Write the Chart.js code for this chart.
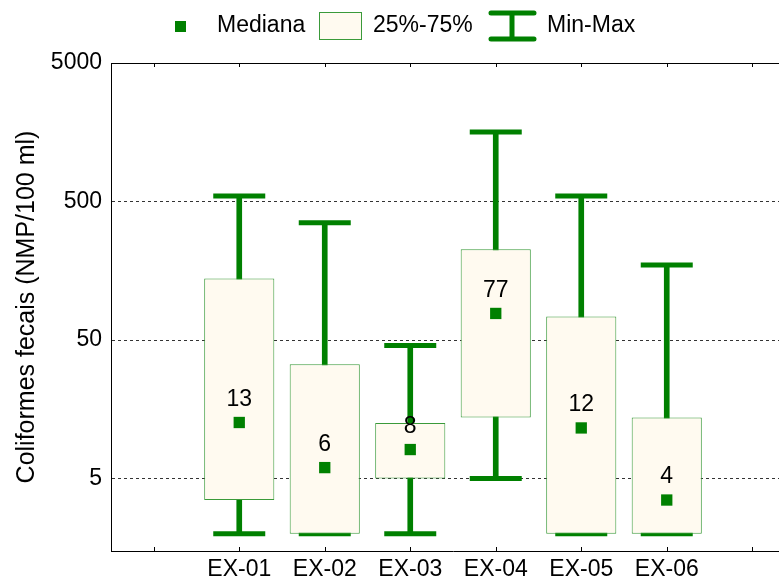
<!DOCTYPE html>
<html>
<head>
<meta charset="utf-8">
<script src="https://cdn.jsdelivr.net/npm/chart.js@4"></script>
<style>
  body { margin: 0; overflow: hidden; background: #fff; }
  #wrap { width: 779px; height: 583px; overflow: hidden; }
</style>
</head>
<body>
<div id="wrap"><canvas id="grafico" width="800" height="583"></canvas></div>
<script>
// dados (primeira e ultima categoria vazias)
var pontos = ['', 'EX-01', 'EX-02', 'EX-03', 'EX-04', 'EX-05', 'EX-06', ''];
var minimo = [null, 2, 2, 2, 5, 2, 2, null];
var quartil1 = [null, 3.5, 2, 5, 13.8, 2, 2, null];
var quartil3 = [null, 139, 33.5, 12.6, 226, 74, 13.8, null];
var maximo = [null, 548, 352, 45.7, 1590, 548, 174, null];
var mediana = [null, 12.7, 6.0, 8.1, 77.8, 11.6, 3.5, null];
var rotulosMediana = ['', '13', '6', '8', '77', '12', '4', ''];
var ticksY = [5, 50, 500, 5000];

var verde = '#008000';
var creme = '#FFFAF0';
var bordaCaixa = '#3A9A3A';
var fonte = 'Liberation Sans, Arial, sans-serif';

var whiskers = [];
var caixas = [];
for (let i = 0; i < pontos.length; i++) {
    whiskers.push(minimo[i] == null ? null : [minimo[i], maximo[i]]);
    caixas.push(quartil1[i] == null ? null : [quartil1[i], quartil3[i]]);
}

// legenda desenhada a mao, parecida com a original
const legenda = {
    id: 'legenda',
    afterDraw(chart) {
        const ctx = chart.ctx;
        ctx.save();
        ctx.fillStyle = verde;
        ctx.fillRect(175, 21, 11, 11);
        ctx.fillStyle = creme;
        ctx.fillRect(319.5, 12.5, 42, 27);
        ctx.strokeStyle = bordaCaixa;
        ctx.lineWidth = 1;
        ctx.strokeRect(319.5, 12.5, 42, 27);
        ctx.strokeStyle = verde;
        ctx.lineWidth = 5;
        ctx.lineCap = 'round';
        ctx.beginPath();
        ctx.moveTo(491, 13); ctx.lineTo(534, 13);
        ctx.moveTo(491, 39); ctx.lineTo(534, 39);
        ctx.moveTo(512, 13); ctx.lineTo(512, 39);
        ctx.stroke();
        ctx.fillStyle = '#000';
        ctx.font = '23px ' + fonte;
        ctx.textBaseline = 'middle';
        ctx.fillText('Mediana', 217, 26);
        ctx.fillText('25%-75%', 373, 26);
        ctx.fillText('Min-Max', 547, 26);
        ctx.restore();
    }
};

// moldura de cima, marcas internas do eixo x e rotulos das medianas
const extras = {
    id: 'extras',
    afterDraw(chart) {
        const ctx = chart.ctx;
        const area = chart.chartArea;
        const x = chart.scales.x;
        ctx.save();
        ctx.strokeStyle = '#000';
        ctx.lineWidth = 1;
        ctx.beginPath();
        ctx.moveTo(area.left, area.top + 0.5);
        ctx.lineTo(area.right, area.top + 0.5);
        ctx.lineTo(area.right, area.bottom);
        for (let i = 0; i < pontos.length; i++) {
            const px = Math.round(x.getPixelForValue(i)) + 0.5;
            ctx.moveTo(px, area.bottom);
            ctx.lineTo(px, area.bottom - 4);
            ctx.moveTo(px, area.top);
            ctx.lineTo(px, area.top + 4);
        }
        ctx.stroke();

        const meta = chart.getDatasetMeta(3);
        ctx.fillStyle = '#000';
        ctx.font = '23px ' + fonte;
        ctx.textAlign = 'center';
        ctx.textBaseline = 'middle';
        meta.data.forEach(function(pt, i) {
            if (mediana[i] == null) return;
            ctx.fillText(rotulosMediana[i], pt.x, pt.y - 23);
        });
        ctx.restore();
    }
};

const config = {
    type: 'bar',
    data: {
        labels: pontos,
        datasets: [
            {
                label: 'Min-Max',
                data: whiskers,
                backgroundColor: verde,
                barThickness: 5,
                grouped: false,
                order: 3
            },
            {
                type: 'line',
                label: 'max',
                data: maximo,
                showLine: false,
                pointStyle: 'line',
                pointRadius: 26,
                pointBorderWidth: 5,
                pointBorderColor: verde,
                order: 3
            },
            {
                type: 'line',
                label: 'min',
                data: minimo,
                showLine: false,
                pointStyle: 'line',
                pointRadius: 26,
                pointBorderWidth: 5,
                pointBorderColor: verde,
                order: 3
            },
            {
                type: 'line',
                label: 'Mediana',
                data: mediana,
                showLine: false,
                pointStyle: 'rect',
                pointRadius: 8,
                pointBorderWidth: 0,
                pointBackgroundColor: verde,
                order: 1
            },
            {
                label: '25%-75%',
                data: caixas,
                backgroundColor: creme,
                borderColor: bordaCaixa,
                borderWidth: 1,
                borderSkipped: false,
                barPercentage: 0.82,
                categoryPercentage: 1,
                grouped: false,
                order: 2
            }
        ]
    },
    options: {
        responsive: false,
        animation: false,
        // a area do grafico passa da borda direita (cortada pelo #wrap), como no original
        layout: { autoPadding: false, padding: { top: 63, right: 5, left: 0, bottom: 0 } },
        plugins: {
            legend: { display: false },
            tooltip: { enabled: false }
        },
        scales: {
            x: {
                afterFit: function(scale) {
                    scale.height = 32;
                    scale.paddingLeft = 0;
                    scale.paddingRight = 0;
                },
                grid: { drawOnChartArea: false, drawTicks: false },
                border: { color: '#000', width: 1 },
                ticks: {
                    color: '#000',
                    padding: 5,
                    font: { family: fonte, size: 23 }
                }
            },
            y: {
                type: 'logarithmic',
                min: 1.5,
                max: 5000,
                afterFit: function(scale) { scale.width = 111; },
                afterBuildTicks: function(scale) {
                    scale.ticks = ticksY.map(function(v) { return { value: v }; });
                },
                grid: {
                    drawTicks: false,
                    color: function(c) {
                        return c.tick && c.tick.value === 5000 ? 'rgba(0,0,0,0)' : '#333';
                    }
                },
                border: { color: '#000', width: 1, dash: [3, 3] },
                ticks: {
                    color: '#000',
                    padding: 9,
                    font: { family: fonte, size: 23 },
                    callback: function(v) { return String(v); }
                },
                title: {
                    display: true,
                    text: 'Coliformes fecais (NMP/100 ml)',
                    color: '#000',
                    font: { family: fonte, size: 25 },
                    padding: { top: 12, bottom: 0 }
                }
            }
        }
    },
    plugins: [legenda, extras]
};

var grafico = new Chart(document.getElementById('grafico'), config);
</script>
</body>
</html>
